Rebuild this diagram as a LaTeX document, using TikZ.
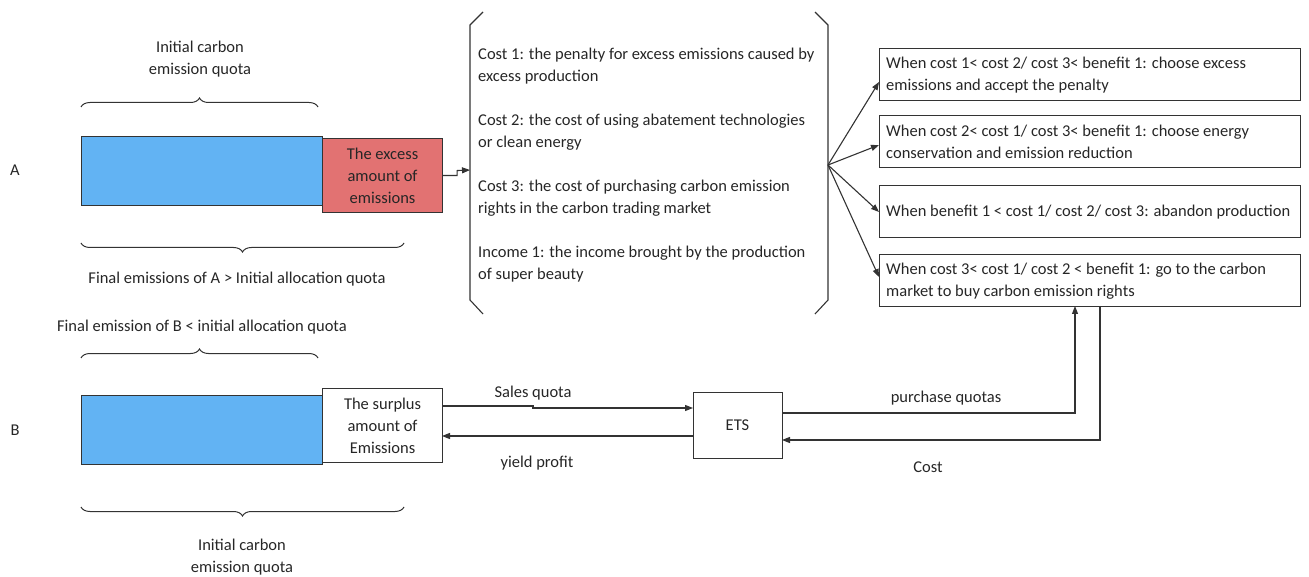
\documentclass[tikz,border=0pt]{standalone}
\usepackage{fontspec}
\setmainfont{Carlito}
\usetikzlibrary{arrows.meta,decorations.pathreplacing,positioning}
\definecolor{lin}{HTML}{333333}
\definecolor{barblue}{HTML}{62B3F3}
\definecolor{barred}{HTML}{E27272}
\tikzset{
  txt/.style={font=\fontsize{16.5}{22}\selectfont, text=black!85, inner sep=0pt},
  box/.style={draw=lin, line width=1.1pt, inner sep=0pt, anchor=north west},
  arr/.style={draw=lin, line width=1.1pt, -{Triangle[length=8pt,width=6pt]}},
  ln/.style={draw=lin, line width=1.1pt},
  brc/.style={draw=lin, line width=1pt, decorate, decoration={brace, amplitude=9pt}},
}
\begin{document}
\begin{tikzpicture}[x=1pt,y=-1pt]
\useasboundingbox (0,0) rectangle (1309,577);
% ---- A ----
\node[txt] (labA) at (15,170) {A};
\node[box, fill=barblue, minimum width=241pt, minimum height=69pt] (blueA) at (81,136) {};
\node[box, fill=barred, minimum width=120pt, minimum height=74pt, align=center, txt] (redA) at (322,138) {The excess\\amount of\\emissions};
\draw[brc] (81,107) -- (318,107);
\node[txt, align=center] (topA) at (200,59) {Initial carbon\\emission quota};
\draw[brc] (404,243) -- (81,243);
\node[txt] (botA) at (237,279) {Final emissions of A > Initial allocation quota};
% bracket
\coordinate (bL) at (470,170);
\coordinate (bR) at (828,165);
\draw[ln] (483,12) -- (470,25) -- (470,300) -- (483,314);
\draw[ln] (815,12) -- (828,25) -- (828,300) -- (815,314);
\node[txt, anchor=west, align=left] (cost1) at (478,66) {Cost 1: the penalty for excess emissions caused by\\excess production};
\node[txt, anchor=west, align=left] (cost2) at (478,132) {Cost 2: the cost of using abatement technologies\\or clean energy};
\node[txt, anchor=west, align=left] (cost3) at (478,198) {Cost 3: the cost of purchasing carbon emission\\rights in the carbon trading market};
\node[txt, anchor=west, align=left] (inc1) at (478,264) {Income 1: the income brought by the production\\of super beauty};
\draw[arr] (redA.east) -- ++(14,0) -- ++(0,-5) -- (bL);
% right boxes
\node[box, minimum width=421pt, minimum height=52pt] (c1) at (879,48) {};
\node[box, minimum width=421pt, minimum height=52pt] (c2) at (879,115) {};
\node[box, minimum width=421pt, minimum height=52pt] (c3) at (879,185) {};
\node[box, minimum width=421pt, minimum height=52pt] (c4) at (879,254) {};
\node[txt, anchor=west, align=left] (t1) at (886,75) {When cost 1< cost 2/ cost 3< benefit 1: choose excess\\emissions and accept the penalty};
\node[txt, anchor=west, align=left] (t2) at (886,142) {When cost 2< cost 1/ cost 3< benefit 1: choose energy\\conservation and emission reduction};
\node[txt, anchor=west, align=left] (t3) at (886,212) {When benefit 1 < cost 1/ cost 2/ cost 3: abandon production};
\node[txt, anchor=west, align=left] (t4) at (886,281) {When cost 3< cost 1/ cost 2 < benefit 1: go to the carbon\\market to buy carbon emission rights};
\draw[arr] (bR) -- (c1.west |- 0,82);
\draw[arr] (bR) -- (c2.west |- 0,145);
\draw[arr] (bR) -- (c3.west |- 0,212);
\draw[arr] (bR) -- (c4.west |- 0,277);
% ---- B ----
\node[txt] (labB) at (15,430) {B};
\node[txt] (topB) at (202,327) {Final emission of B < initial allocation quota};
\draw[brc] (81,358) -- (318,358);
\node[box, fill=barblue, minimum width=241pt, minimum height=69pt] (blueB) at (81,395) {};
\node[box, fill=white, minimum width=120pt, minimum height=74pt, align=center, txt] (surB) at (322,388) {The surplus\\amount of\\Emissions};
\draw[brc] (404,507) -- (81,507);
\node[txt, align=center] (botB) at (242,557) {Initial carbon\\emission quota};
\node[box, minimum width=89pt, minimum height=66pt, txt] (ets) at (693,392) {};
\node[txt] (etsT) at (737.5,425) {ETS};
\draw[arr] (442,406) -- (533,406) -- (533,408) -- (693,408);
\node[txt] (sq) at (533,393) {Sales quota};
\draw[arr] (693,436) -- (442,436);
\node[txt] (yp) at (537,463) {yield profit};
\draw[arr] (782,413) -- (1075,413) -- (1075,306);
\node[txt] (pq) at (946,398) {purchase quotas};
\draw[arr] (1100,306) -- (1100,440) -- (782,440);
\node[txt] (cst) at (928,467) {Cost};
\end{tikzpicture}
\end{document}
